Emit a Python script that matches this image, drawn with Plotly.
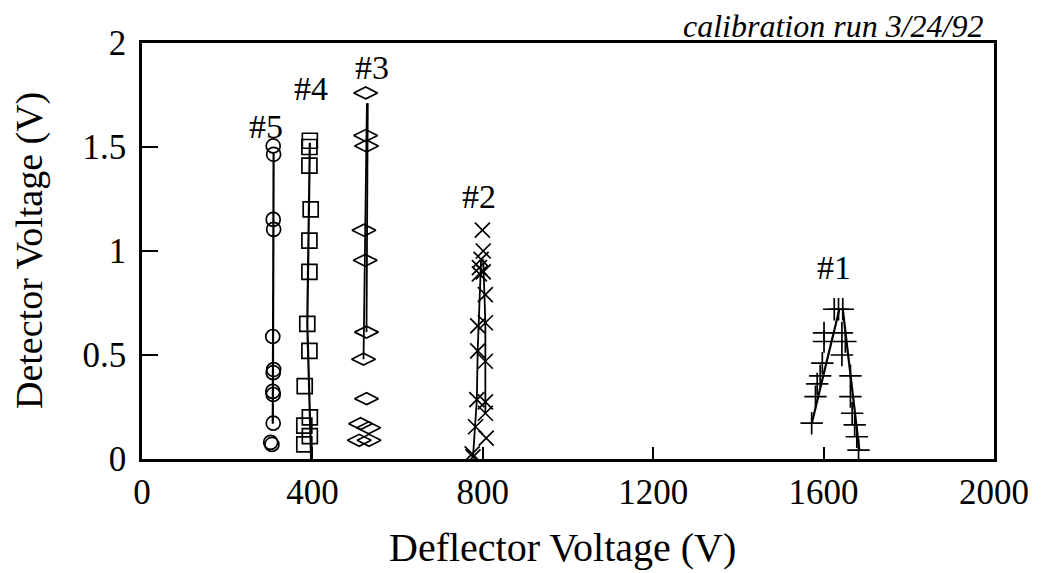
import plotly.graph_objects as go

FONT = "Liberation Serif"

# ---- data (Deflector Voltage V, Detector Voltage V) ----
s5_x = [308, 309, 308, 309, 307, 309, 308, 307, 308, 308, 302, 305]
s5_y = [1.505, 1.465, 1.152, 1.104, 0.589, 0.43, 0.415, 0.325, 0.31, 0.172, 0.08, 0.07]
s5_fit_x = [309, 307]
s5_fit_y = [1.47, 0.17]

s4_x = [394, 393, 393, 396, 393, 393, 388, 393, 382, 394, 381, 394, 381]
s4_y = [1.53, 1.50, 1.41, 1.20, 1.05, 0.90, 0.65, 0.52, 0.35, 0.20, 0.16, 0.11, 0.07]
s4_fit_x = [394, 388, 397]
s4_fit_y = [1.52, 0.65, 0.0]

s3_x = [525, 525, 527, 521, 524, 527, 520, 527, 513, 532, 510, 533]
s3_y = [1.76, 1.555, 1.505, 1.10, 0.955, 0.61, 0.48, 0.29, 0.17, 0.15, 0.09, 0.09]
s3_fit_a_x = [528, 520]
s3_fit_a_y = [1.71, 0.48]
s3_fit_b_x = [530, 527]
s3_fit_b_y = [1.71, 0.61]

s2_x = [799, 801, 796, 792, 792, 801, 806, 806, 788, 788, 806, 786, 806, 806, 783, 808, 775, 777]
s2_y = [1.10, 1.00, 0.96, 0.92, 0.89, 0.90, 0.79, 0.655, 0.64, 0.52, 0.47, 0.285, 0.275, 0.22, 0.155, 0.10, 0.025, 0.01]
s2_fit_a_x = [796, 788, 786, 777]
s2_fit_a_y = [0.96, 0.52, 0.285, 0.01]
s2_fit_b_x = [801, 806, 806]
s2_fit_b_y = [0.96, 0.655, 0.22]

s1_x = [1625, 1635, 1645, 1601, 1601, 1597, 1592, 1585, 1581, 1572,
        1643, 1651, 1643, 1663, 1663, 1667, 1673, 1678, 1682]
s1_y = [0.72, 0.72, 0.72, 0.606, 0.565, 0.461, 0.40, 0.361, 0.30, 0.172,
        0.606, 0.565, 0.50, 0.40, 0.30, 0.22, 0.164, 0.107, 0.043]
s1_fit_a_x = [1572, 1637]
s1_fit_a_y = [0.17, 0.72]
s1_fit_b_x = [1645, 1684]
s1_fit_b_y = [0.72, 0.04]

labels = ["#5", "#4", "#3", "#2", "#1"]
label_x = [292, 397, 541, 792, 1625]
label_y = [1.60, 1.78, 1.88, 1.26, 0.92]

x_ticks = [0, 400, 800, 1200, 1600, 2000]
y_ticks = [0, 0.5, 1, 1.5, 2]
y_tick_text = ["0", "0.5", "1", "1.5", "2"]

fig = go.Figure()

def add_line(x, y, w=1.8):
    fig.add_trace(go.Scatter(x=x, y=y, mode="lines",
                             line=dict(color="black", width=w),
                             showlegend=False, hoverinfo="skip"))

def add_markers(x, y, symbol, size):
    fig.add_trace(go.Scatter(x=x, y=y, mode="markers",
                             marker=dict(symbol=symbol, size=size, color="black",
                                         line=dict(color="black", width=1.7)),
                             showlegend=False))

add_line(s5_fit_x, s5_fit_y, 2.2)
add_line(s4_fit_x, s4_fit_y, 2.2)
add_line(s3_fit_a_x, s3_fit_a_y)
add_line(s3_fit_b_x, s3_fit_b_y)
add_line(s2_fit_a_x, s2_fit_a_y)
add_line(s2_fit_b_x, s2_fit_b_y)
add_line(s1_fit_a_x, s1_fit_a_y, 2.2)
add_line(s1_fit_b_x, s1_fit_b_y, 2.2)

add_markers(s5_x, s5_y, "circle-open", 14)
add_markers(s4_x, s4_y, "square-open", 15)
add_markers(s3_x, s3_y, "diamond-wide-open", 17)
add_markers(s2_x, s2_y, "x-thin-open", 15)
add_markers(s1_x, s1_y, "cross-thin-open", 16)

for t, x, y in zip(labels, label_x, label_y):
    fig.add_annotation(x=x, y=y, text=t, showarrow=False,
                       font=dict(family=FONT, size=34, color="black"))

fig.add_annotation(xref="paper", yref="paper", x=0.99, y=1.0,
                   xanchor="right", yanchor="bottom", yshift=-3,
                   text="<i>calibration run 3/24/92</i>", showarrow=False,
                   font=dict(family=FONT, size=32, color="black"))

# axis titles as annotations for exact placement
fig.add_annotation(xref="paper", yref="paper", x=0.494, y=0.0,
                   xanchor="center", yanchor="middle", yshift=-88,
                   text="Deflector Voltage (V)", showarrow=False,
                   font=dict(family=FONT, size=40, color="black"))
fig.add_annotation(xref="paper", yref="paper", x=0.0, y=0.5,
                   xanchor="center", yanchor="middle", xshift=-113,
                   textangle=-90, text="Detector Voltage (V)", showarrow=False,
                   font=dict(family=FONT, size=38, color="black"))

axis_common = dict(showgrid=False, zeroline=False, showline=True,
                   linecolor="black", linewidth=2.5, mirror=True,
                   ticks="inside", tickcolor="black", tickwidth=2,
                   tickfont=dict(family=FONT, size=35, color="black"))

fig.update_xaxes(range=[0, 2000], tickvals=x_ticks, ticklen=12, **axis_common)
fig.update_yaxes(range=[0, 2], tickvals=y_ticks, ticktext=y_tick_text, ticklen=16,
                 ticklabelstandoff=6, **axis_common)

fig.update_layout(width=1041, height=573,
                  margin=dict(l=142, r=38, t=43, b=114),
                  plot_bgcolor="white", paper_bgcolor="white",
                  showlegend=False)

fig.write_html("out.html")
